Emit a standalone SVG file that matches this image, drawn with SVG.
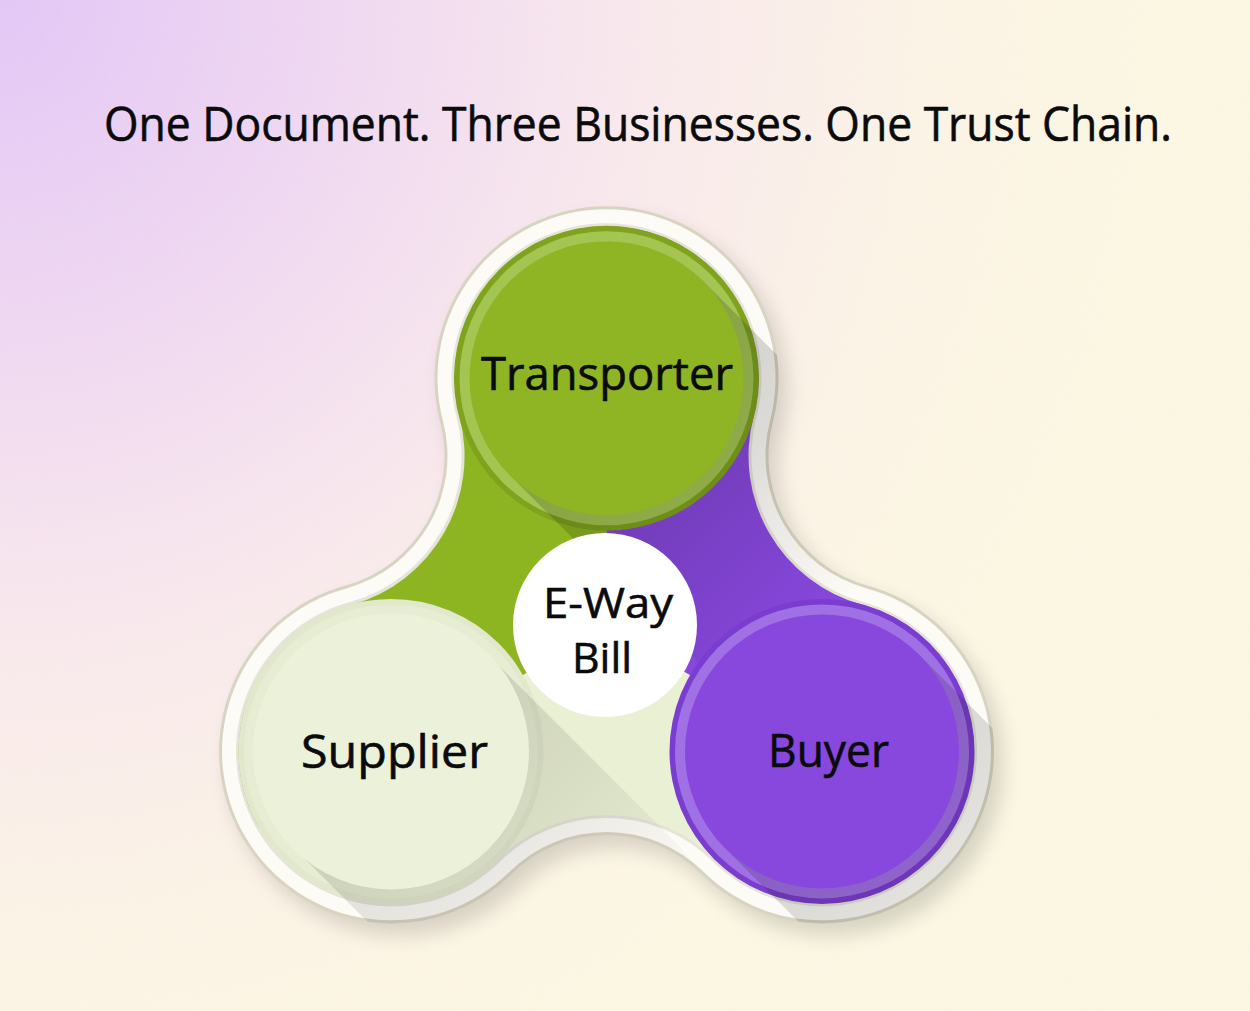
<svg xmlns="http://www.w3.org/2000/svg" width="1250" height="1011" viewBox="0 0 1250 1011">
<defs>
<style>
.lbl{font-family:"Open Sans","Noto Sans","DejaVu Sans",sans-serif;font-weight:400;fill:#0b0b0b;stroke:#0b0b0b;stroke-width:0.6;}
</style>
<radialGradient id="bg" gradientUnits="userSpaceOnUse" cx="0" cy="0" r="1150">
<stop offset="0" stop-color="#e2c6f6"/>
<stop offset="0.3" stop-color="#efd8f1"/>
<stop offset="0.55" stop-color="#f8e8ec"/>
<stop offset="0.8" stop-color="#fbf3e5"/>
<stop offset="1" stop-color="#fbf7e2"/>
</radialGradient>
<filter id="grain" x="0" y="0" width="100%" height="100%">
<feTurbulence type="fractalNoise" baseFrequency="0.9" numOctaves="2" seed="3" result="n"/>
<feColorMatrix in="n" type="matrix" values="0 0 0 0 1  0 0 0 0 0.85  0 0 0 0 0.95  0 0 0 0.6 -0.2"/>
</filter>
<filter id="drop" x="-20%" y="-20%" width="140%" height="140%">
<feGaussianBlur stdDeviation="10"/>
</filter>
<path id="tre172" d="M440.11,421.75 A172,172 0 1 1 772.89,421.75 A134.5,134.5 0 0 0 867.46,585.51 A172,172 0 1 1 701.07,873.74 A134.5,134.5 0 0 0 511.93,873.74 A172,172 0 1 1 345.54,585.51 A134.5,134.5 0 0 0 440.11,421.75 Z"/>
<clipPath id="clipOuter"><use href="#tre172"/></clipPath>
<clipPath id="clipInner"><path d="M459.46,416.69 A152,152 0 1 1 753.54,416.69 A154.5,154.5 0 0 0 862.17,604.8 A152,152 0 1 1 715.13,859.52 A154.5,154.5 0 0 0 497.87,859.52 A152,152 0 1 1 351.83,604.8 A154.5,154.5 0 0 0 459.46,416.69 Z"/></clipPath>
<linearGradient id="gT" gradientUnits="userSpaceOnUse" x1="606.5" y1="378.2" x2="836.5" y2="608.2">
<stop offset="0" stop-color="#000" stop-opacity="0.18"/><stop offset="0.45" stop-color="#000" stop-opacity="0.13"/><stop offset="1" stop-color="#000" stop-opacity="0"/>
</linearGradient>
<linearGradient id="gS" gradientUnits="userSpaceOnUse" x1="391" y1="751.4" x2="621" y2="981.4">
<stop offset="0" stop-color="#000" stop-opacity="0.12"/><stop offset="0.45" stop-color="#000" stop-opacity="0.08"/><stop offset="1" stop-color="#000" stop-opacity="0"/>
</linearGradient>
<linearGradient id="gB" gradientUnits="userSpaceOnUse" x1="822" y1="751.4" x2="1052" y2="981.4">
<stop offset="0" stop-color="#000" stop-opacity="0.16"/><stop offset="0.45" stop-color="#000" stop-opacity="0.11"/><stop offset="1" stop-color="#000" stop-opacity="0"/>
</linearGradient>
</defs>

<rect width="1250" height="1011" fill="url(#bg)"/>
<rect width="1250" height="1011" filter="url(#grain)" opacity="0.35"/>

<text class="lbl" x="104" y="141" font-size="47" textLength="1068" lengthAdjust="spacingAndGlyphs">One Document. Three Businesses. One Trust Chain.</text>

<g id="trefoil-base">
<use href="#tre172" fill="#000" opacity="0.14" transform="translate(9,12)" filter="url(#drop)"/>
<use href="#tre172" fill="#d9d4c2"/>
<path d="M443.01,420.99 A169,169 0 1 1 769.99,420.99 A137.5,137.5 0 0 0 866.67,588.4 A169,169 0 1 1 703.18,871.61 A137.5,137.5 0 0 0 509.82,871.61 A169,169 0 1 1 346.33,588.4 A137.5,137.5 0 0 0 443.01,420.99 Z" fill="#fcfbf6"/>
<path d="M456.55,417.45 A155,155 0 1 1 756.45,417.45 A151.5,151.5 0 0 0 862.97,601.9 A155,155 0 1 1 713.02,861.65 A151.5,151.5 0 0 0 499.98,861.65 A155,155 0 1 1 350.03,601.9 A151.5,151.5 0 0 0 456.55,417.45 Z" fill="#e6e3d9"/>
<g clip-path="url(#clipInner)">
<polygon points="606.5,627 606.5,-373 -259.5,127 -259.5,1127" fill="#8db522"/>
<polygon points="606.5,627 606.5,-373 1472.5,127 1472.5,1127" fill="#8747dc"/>
<polygon points="606.5,627 -259.5,1127 606.5,1627 1472.5,1127" fill="#eaf0d4"/>
</g>
</g>

<g id="connectors"/>

<g id="node-transporter">
<circle cx="606.5" cy="378.2" r="152.5" fill="#7fa31c"/>
<circle cx="606.5" cy="378.2" r="147" fill="#a5c553"/>
<path clip-path="url(#clipOuter)" fill="url(#gT)" d="M703.37,281.33 L893.37,471.33 A137,137 0 0 1 699.63,665.07 L509.63,475.07 A137,137 0 0 1 703.37,281.33 Z"/>
<circle cx="606.5" cy="378.2" r="137" fill="#8fb525"/>
<text class="lbl" x="481" y="390" font-size="45" textLength="252" lengthAdjust="spacingAndGlyphs">Transporter</text>
</g>

<g id="node-supplier">
<circle cx="391" cy="751.4" r="152.5" fill="#e2e8cb"/>
<circle cx="391" cy="751.4" r="147" fill="#e7edd2"/>
<path clip-path="url(#clipOuter)" fill="url(#gS)" d="M487.87,654.53 L677.87,844.53 A137,137 0 0 1 484.13,1038.27 L294.13,848.27 A137,137 0 0 1 487.87,654.53 Z"/>
<circle cx="391" cy="751.4" r="138" fill="#ecf2da"/>
<text class="lbl" x="301" y="768" font-size="45" textLength="187" lengthAdjust="spacingAndGlyphs">Supplier</text>
</g>

<g id="node-buyer">
<circle cx="822" cy="751.4" r="152.5" fill="#7b3dcf"/>
<circle cx="822" cy="751.4" r="147" fill="#a070e5"/>
<path clip-path="url(#clipOuter)" fill="url(#gB)" d="M918.87,654.53 L1108.87,844.53 A137,137 0 0 1 915.13,1038.27 L725.13,848.27 A137,137 0 0 1 918.87,654.53 Z"/>
<circle cx="822" cy="751.4" r="137" fill="#8848de"/>
<text class="lbl" x="768" y="767" font-size="45" textLength="121" lengthAdjust="spacingAndGlyphs">Buyer</text>
</g>

<g id="node-ewaybill">
<circle cx="605" cy="625" r="92" fill="#ffffff"/>
<text class="lbl" x="543" y="618" font-size="42" textLength="130" lengthAdjust="spacingAndGlyphs">E-Way</text>
<text class="lbl" x="572" y="673" font-size="42" textLength="60" lengthAdjust="spacingAndGlyphs">Bill</text>
</g>
</svg>
